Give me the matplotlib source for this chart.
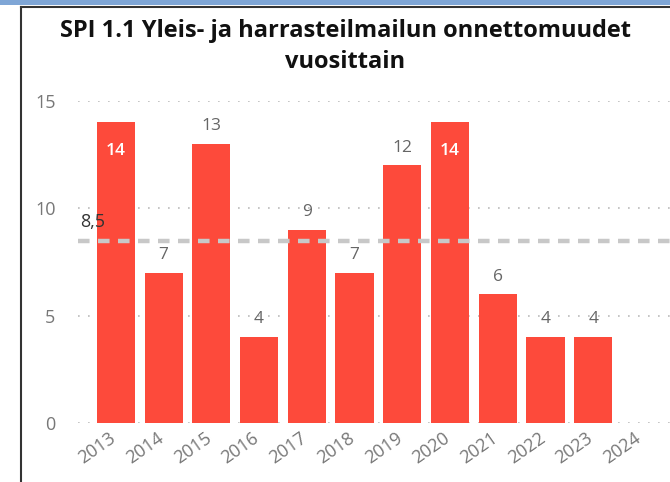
import numpy as np
import matplotlib.pyplot as plt
import matplotlib.transforms as mtransforms
from matplotlib.patches import Rectangle
from matplotlib.lines import Line2D

vuodet = ['2013', '2014', '2015', '2016', '2017', '2018', '2019', '2020',
          '2021', '2022', '2023', '2024']
onnettomuudet = [14, 7, 13, 4, 9, 7, 12, 14, 6, 4, 4, None]
keskiarvo = 8.5
otsikko = 'SPI 1.1 Yleis- ja harrasteilmailun onnettomuudet\nvuosittain'

plt.rcParams['font.family'] = ['Open Sans', 'DejaVu Sans']

fig = plt.figure(figsize=(6.7, 4.82), dpi=100)
ax = fig.add_axes([0.116, 0.1224, 0.884, 0.668])

x = np.arange(len(vuodet))
arvot = [v for v in onnettomuudet if v is not None]
xb = x[:len(arvot)]
ax.bar(xb, arvot, width=0.8, color='#FD4A3B', zorder=2)

# keskiarvoviiva
ax.axhline(keskiarvo, color='#C8C8C8', lw=3.2, dashes=(2.6, 1.9), zorder=3)
ax.text(-0.75, keskiarvo + 0.45, str(keskiarvo).replace('.', ','), color='#333333',
        fontsize=13, ha='left', va='bottom', zorder=4)

for xi, v in zip(xb, arvot):
    if v >= 14:
        ax.text(xi, v - 0.95, str(v), color='white', fontsize=12.5,
                fontweight='semibold', ha='center', va='top', zorder=4)
    else:
        ax.text(xi, v + 0.45, str(v), color='#666666', fontsize=12.5,
                ha='center', va='bottom', zorder=4)

ax.set_ylim(0, 15)
ax.set_xlim(-0.8, 11.61)
ax.set_yticks([0, 5, 10, 15])
ax.yaxis.grid(True, color='#BBBBBB', linestyle=(0, (1, 5)), lw=1.2, zorder=0)
ax.set_xticks([])
# vuosiotsikot vinossa, hieman vasemmalle siirrettyinä
siirto = mtransforms.ScaledTranslation(-7 / 100, -6 / 100, fig.dpi_scale_trans)
for xi, vuosi in zip(x, vuodet):
    ax.text(xi, 0, vuosi, transform=ax.get_xaxis_transform() + siirto,
            rotation=35, ha='right', va='top', rotation_mode='anchor',
            color='#777777', fontsize=13)
ax.tick_params(axis='y', length=0, pad=16, labelcolor='#777777', labelsize=13)
for s in ax.spines.values():
    s.set_visible(False)

fig.text(0.515, 0.903, otsikko, ha='center', va='center', fontsize=17,
         fontweight='bold', color='#111111', linespacing=1.4)

# kehys
fig.add_artist(Rectangle((0, 1 - 5 / 482), 1, 5 / 482, transform=fig.transFigure,
                         color='#7FA6D6', lw=0))
fig.add_artist(Line2D([21 / 670, 1], [1 - 7 / 482] * 2, transform=fig.transFigure,
                      color='#333333', lw=1.5))
fig.add_artist(Line2D([21 / 670] * 2, [0, 1 - 7 / 482], transform=fig.transFigure,
                      color='#333333', lw=1.5))

fig.savefig('out.png', dpi=100)
